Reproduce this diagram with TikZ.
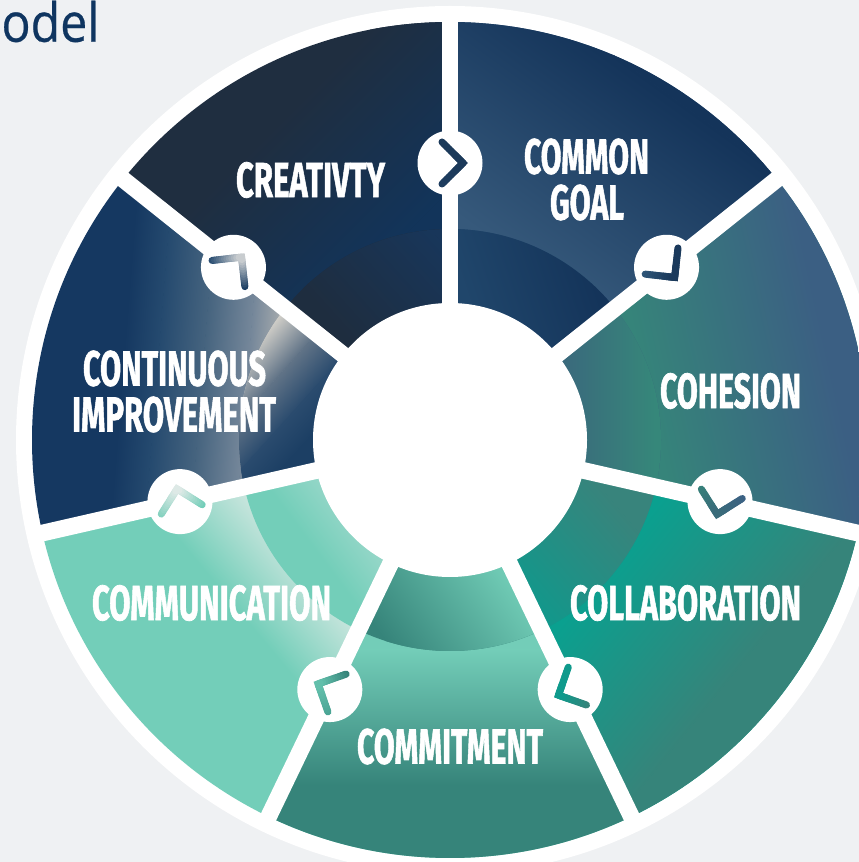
\documentclass[tikz,border=0pt]{standalone}
\usepackage{graphicx}
\usepackage{fontspec}
\newfontfamily\lab[BoldFeatures={FakeBold=1.5}]{Fira Sans}
\newfontfamily\ttl[FakeBold=0.5]{Open Sans}
\tikzset{
  spoke/.style={white,line width=16.7pt},
  badge/.style={circle,fill=white,minimum size=65pt,inner sep=0pt},
  lbl/.style={text=white,inner sep=0pt},
}
\definecolor{pagebg}{HTML}{EFF1F3}
\definecolor{titleblue}{HTML}{0F3560}
\newcommand\gbase[1]{\definecolor{gZ}{HTML}{#1}\fill[gZ] (0,0) rectangle (859,862);}
\newcommand\gseg[6]{%
  \definecolor{gA}{HTML}{#5}\definecolor{gB}{HTML}{#6}%
  \pgfmathsetmacro\gang{atan2(#2-#4,#3-#1)}%
  \pgfmathsetmacro\glen{veclen(#3-#1,#2-#4)}%
  \begin{scope}[transform canvas={shift={(#1,862-#2)},rotate=\gang}]
    \shade[left color=gA,right color=gB] (0,-1500) rectangle (\glen,1500);
    \fill[gB] (\glen-0.3,-1500) rectangle (2500,1500);
  \end{scope}}
\newcommand\sect[4]{%
  \begin{scope}
    \clip (C) -- ([shift={(#1:700)}]C) -- ([shift={(#2:700)}]C) -- cycle;
    \clip (C) circle (418);
    \begin{scope}#3\end{scope}
    \clip (C) circle (211);
    #4
  \end{scope}}
\newcommand\lblnode[6]{\node[lbl] (#1) at (#2,862-#3) {\resizebox{#4pt}{#5pt}{\lab\bfseries #6}};}
\newcommand\chev[4]{%
  \definecolor{cA}{HTML}{#2}\definecolor{cB}{HTML}{#3}\definecolor{cC}{HTML}{#4}%
  \begin{scope}[shift={(b#1.center)},rotate=-51.4286*#1,line width=7pt]
    \draw[cB,line join=miter] (4.6,8.4) -- (13,0) -- (4.6,-8.4);
    \foreach \i in {0,...,11}{%
      \pgfmathsetmacro\pc{100*\i/11}%
      \pgfmathsetmacro\ta{\i/12}\pgfmathsetmacro\tb{(\i+1)/12}%
      \draw[line cap=round,color=cB!\pc!cA] (-8+21*\ta,21-21*\ta) -- (-8+21*\tb,21-21*\tb);
      \draw[line cap=round,color=cB!\pc!cC] (-8+21*\ta,-21+21*\ta) -- (-8+21*\tb,-21+21*\tb);
    }
  \end{scope}}
\begin{document}
\begin{tikzpicture}[x=1pt,y=1pt]
\useasboundingbox (0,0) rectangle (859,862);
\clip (0,0) rectangle (859,862);
\fill[pagebg] (0,0) rectangle (859,862);
\coordinate (C) at (450,422);
\fill[white] (C) circle (434);
% common goal
\sect{38.57}{90}{\gbase{36597B}\gseg{560}{290}{690}{110}{36597B}{14345A}}
  {\gbase{20466B}\gseg{470}{310}{590}{270}{20466B}{14345A}}
% cohesion
\sect{-12.86}{38.57}{\gbase{36847A}\gseg{655}{430}{835}{390}{36847A}{3B5F83}}
  {\gbase{3A6A7C}\gseg{565}{420}{655}{420}{3A6A7C}{36877A}}
% collaboration
\sect{-64.29}{-12.86}{\gbase{0AA08F}\gseg{595}{580}{725}{685}{0AA08F}{36847A}}
  {\gbase{0F998C}\gseg{515}{600}{620}{510}{0F998C}{38847C}}
% commitment
\sect{-115.71}{-64.29}{\gbase{73CDB8}\gseg{450}{650}{450}{785}{73CDB8}{36847A}}
  {\gbase{36847A}\gseg{385}{640}{495}{560}{36847A}{70CBB5}}
% communication
\sect{-167.14}{-115.71}{\gbase{73CEB9}\gseg{205}{571}{266}{520}{73CEB9}{C8E5DD}}
  {\gbase{73CEB9}\gseg{300}{530}{336}{503}{73CEB9}{93D6C7}}
% continuous improvement
\sect{141.43}{192.86}{\gbase{153861}\gseg{120}{400}{155}{402.8}{153861}{254A6F}\gseg{155}{402.8}{200}{406.4}{254A6F}{46647F}\gseg{200}{406.4}{245}{410}{46647F}{75879A}\gseg{245}{410}{285}{413.2}{75879A}{B8B8B4}}
  {\gbase{D0CEC8}\gseg{275}{320}{305}{347}{D0CEC8}{5F7286}\gseg{305}{347}{331}{370}{5F7286}{2A4B6E}\gseg{331}{370}{353}{390}{2A4B6E}{1C3F64}}
% creativity
\sect{90}{141.43}{\gbase{1F2E40}\gseg{280}{120}{400}{240}{1F2E40}{12345A}}
  {\gbase{1E2D3F}\gseg{340}{330}{440}{240}{1E2D3F}{18365A}}
% spokes and hub
\foreach \a in {90,38.57,-12.86,-64.29,-115.71,-167.14,-218.57}
  \draw[spoke] (C) -- ([shift={(\a:425)}]C);
\fill[white] (C) circle (137);
% badges
\foreach \k in {0,...,6}{
  \pgfmathsetmacro\a{90-51.4286*\k}
  \node[badge] (b\k) at ([shift={(\a:277)}]C) {};
}
\chev{0}{1C3A5A}{1C3A5A}{1E3D60}
\chev{1}{1B3A5C}{1B3A5C}{2E5577}
\chev{2}{3B6184}{3A6B7A}{37807A}
\chev{3}{36847A}{0F9A8C}{0F9A8C}
\chev{4}{4BA595}{62BFAB}{36847A}
\chev{5}{86D2C0}{DDE9E6}{73CEB9}
\chev{6}{2B4F73}{C8CCCF}{1C3F64}
% labels
\lblnode{creativity}{310.5}{180}{149}{35}{CREATIVTY}
\lblnode{common}{586.5}{156.5}{125}{35}{COMMON}
\lblnode{goal}{587}{202.5}{74}{35}{GOAL}
\lblnode{cohesion}{730.5}{391}{141}{35}{COHESION}
\lblnode{collab}{685.5}{603}{231}{35}{COLLABORATION}
\lblnode{commit}{450}{746.5}{186}{35}{COMMITMENT}
\lblnode{commun}{211.5}{603}{239}{35}{COMMUNICATION}
\lblnode{contin}{174.5}{368.5}{183}{35}{CONTINUOUS}
\lblnode{improv}{174}{414.5}{204}{35}{IMPROVEMENT}
\node[text=titleblue,inner sep=0pt] (title) at (50.5,840.5) {\resizebox{98pt}{41pt}{\ttl odel}};
\end{tikzpicture}
\end{document}
